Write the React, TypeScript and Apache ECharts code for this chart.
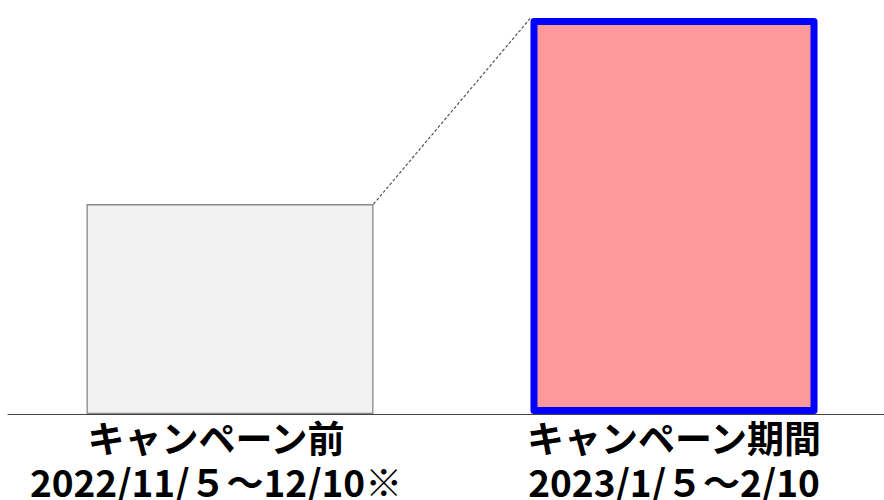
import { useEffect, useRef } from "react";
import * as echarts from "echarts";

const categories = ["キャンペーン前", "キャンペーン期間"];
const periods = ["2022/11/５～12/10※", "2023/1/５～2/10"];
const values = [53, 100];
const yMax = 100;

const FONT = '"Noto Sans CJK JP", "Noto Sans", sans-serif';

export default function App() {
  const ref = useRef<HTMLDivElement>(null);
  useEffect(() => {
    const chart = echarts.init(ref.current!, null, { renderer: "svg" });
    const barWidth = 287;
    chart.setOption({
      animation: false,
      grid: { left: 8, right: -12, top: 18, bottom: 86, containLabel: false, outerBoundsMode: "none" },
      xAxis: {
        type: "category",
        data: categories,
        axisLine: { lineStyle: { color: "#444", width: 1 } },
        axisTick: { show: false },
        axisLabel: {
          interval: 0,
          margin: 1,
          formatter: (v: string, i: number) =>
            i === 0 ? `{a|${v}}\n{a|${periods[0]}}` : `{b|${v}}\n{b|${periods[1]}}`,
          rich: {
            a: { fontSize: 37, fontWeight: "bold", lineHeight: 44, color: "#000", fontFamily: FONT, padding: [0, 28, 0, 0] },
            b: { fontSize: 37, fontWeight: "bold", lineHeight: 44, color: "#000", fontFamily: FONT },
          },
        },
      },
      yAxis: { type: "value", min: 0, max: yMax, show: false, splitLine: { show: false } },
      series: [
        {
          type: "bar",
          barWidth,
          data: [
            { value: values[0], itemStyle: { color: "#f2f2f2", borderColor: "#888888", borderWidth: 1.3 } },
            { value: values[1], itemStyle: { color: "#ff9999", borderColor: "#0000ff", borderWidth: 7, borderJoin: "round" } },
          ],
        },
      ],
    });
    const p1 = chart.convertToPixel({ gridIndex: 0 }, [0, values[0]]) as number[];
    const p2 = chart.convertToPixel({ gridIndex: 0 }, [1, values[1]]) as number[];
    chart.setOption({
      graphic: [
        {
          type: "line",
          z: 10,
          shape: { x1: p1[0] + barWidth / 2, y1: p1[1], x2: p2[0] - barWidth / 2, y2: p2[1] },
          style: { stroke: "#555", lineWidth: 1.2, lineDash: [3, 2] },
        },
      ],
    });
    return () => chart.dispose();
  }, []);
  return (
    <div
      ref={ref}
      style={{ position: "absolute", left: 0, top: 0, width: 884, height: 500 }}
    />
  );
}
